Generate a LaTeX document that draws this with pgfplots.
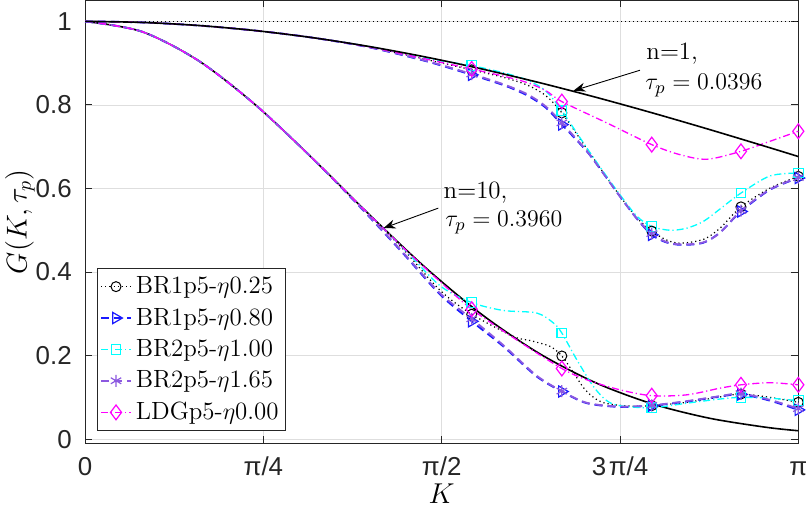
\documentclass[border=0pt]{standalone}
\usepackage{fontspec}
\usepackage{pgfplots}
\pgfplotsset{compat=1.18}
\usetikzlibrary{arrows.meta}
\newfontfamily\tickfont{Liberation Sans}
\definecolor{cpurple}{rgb}{0.55,0.35,0.88}
\definecolor{cblue}{rgb}{0.1,0.1,1}
\definecolor{ccyan}{rgb}{0,1,1}
\definecolor{cmag}{rgb}{1,0,1}
\definecolor{axgray}{rgb}{0.15,0.15,0.15}
\pgfplotsset{
 sC/.style={black, line width=0.6bp, dash pattern=on 0.6bp off 1.5bp},
 sT/.style={cblue, line width=0.9bp, dash pattern=on 4bp off 2.5bp},
 sS/.style={ccyan, line width=0.65bp, dash pattern=on 3.5bp off 1.5bp on 0.6bp off 1.5bp},
 sA/.style={cpurple, line width=0.9bp, dash pattern=on 4bp off 2.5bp},
 sD/.style={cmag, line width=0.65bp, dash pattern=on 3.5bp off 1.5bp on 0.6bp off 1.5bp},
 mC/.style={black, mark=o, mark size=2.5bp, mark options={solid, line width=0.5bp}},
 mT/.style={cblue, mark=triangle, mark size=3.2bp, mark options={solid, rotate=-90, line width=0.6bp}},
 mS/.style={ccyan, mark=square, mark size=2.4bp, mark options={solid, line width=0.6bp}},
 mA/.style={cpurple, mark=asterisk, mark size=3bp, mark options={solid, line width=0.6bp}},
 mD/.style={cmag, mark=diamond, mark size=3.7bp, mark options={solid, line width=0.6bp}},
}
\begin{document}
\begin{tikzpicture}
\begin{axis}[
 scale only axis, width=356.6bp, height=221.4bp,
 xmin=0, xmax=3.14159, ymin=-0.01, ymax=1.05,
 xtick={0,0.785398,1.570796,2.356194,3.141593},
 xticklabels={0,π/4,π/2,3\kern0.1em π/4,π},
 ytick={0,0.2,0.4,0.6,0.8,1},
 grid=major, major grid style={black!13, line width=0.4bp},
 axis line style={axgray, line width=0.5bp},
 tick style={axgray, line width=0.5bp}, major tick length=3.5bp, tick align=inside,
 tick label style={font=\tickfont\fontsize{13}{15}\selectfont, text=axgray},
 /pgf/number format/assume math mode=true,
 xticklabel style={anchor=base, yshift=-16bp},
 yticklabel style={anchor=east, xshift=-3.2bp},
 xlabel={$K$}, ylabel={$G(K,\tau_p)$},
 label style={font=\fontsize{14}{16}\selectfont},
 xlabel style={at={(axis description cs:0.5,0)}, anchor=base, yshift=-29.9bp},
 ylabel style={at={(axis description cs:-0.0819,0.5)}, anchor=base},
 clip=false,
 legend style={at={(rel axis cs:0.0163,0.0277)}, anchor=south west, draw=axgray, line width=0.4bp,
   font=\fontsize{12.5}{14}\selectfont, inner xsep=1.5bp, inner ysep=2bp, row sep=1.7bp,
   cells={anchor=west}, fill=white},
 legend image code/.code={\draw[mark repeat=2,mark phase=2,#1] plot coordinates {(0bp,0bp) (7.5bp,0bp) (15bp,0bp)};},
]
% reference line
\addplot[black, line width=0.5bp, dash pattern=on 0.5bp off 1.5bp, forget plot] coordinates {(0,1) (3.14159,1)};

% ===== n=10 group (tau_p = 0.3960) =====
\addplot[black, line width=0.8bp, smooth, forget plot] coordinates {
(0,1) (0.25,0.97555) (0.5,0.90574) (0.75,0.80033) (1.0,0.67301) (1.25,0.53861) (1.5,0.41026)
(1.75,0.29735) (2.0,0.20515) (2.25,0.13470) (2.5,0.08416) (2.75,0.05005) (3.0,0.02832) (3.14159,0.02007)};
\addplot[sC, smooth, forget plot] coordinates {
(0,1) (0.25,0.97555) (0.5,0.90574) (0.75,0.80033) (1.0,0.67301) (1.2,0.5654) (1.4,0.455) (1.564,0.356)
(1.703,0.299) (1.886,0.246) (1.96,0.236) (2.048,0.222) (2.1,0.199) (2.15,0.160) (2.2,0.120) (2.25,0.096)
(2.3,0.085) (2.4,0.079) (2.496,0.080) (2.65,0.088) (2.797,0.101) (2.889,0.108) (3.017,0.100) (3.14159,0.088)};
\addplot[sT, smooth, forget plot] coordinates {
(0,1) (0.25,0.97555) (0.5,0.90574) (0.75,0.80033) (1.0,0.67301) (1.2,0.562) (1.4,0.445) (1.564,0.346)
(1.703,0.282) (1.842,0.222) (1.989,0.150) (2.1,0.114) (2.21,0.086) (2.356,0.077) (2.496,0.080)
(2.65,0.090) (2.797,0.102) (2.889,0.107) (3.017,0.092) (3.14159,0.070)};
\addplot[sS, smooth, forget plot] coordinates {
(0,1) (0.25,0.97555) (0.5,0.90574) (0.75,0.80033) (1.0,0.67301) (1.2,0.5654) (1.4,0.458) (1.564,0.367)
(1.703,0.327) (1.842,0.308) (1.989,0.302) (2.063,0.278) (2.1,0.254) (2.166,0.190) (2.239,0.126)
(2.298,0.092) (2.356,0.080) (2.496,0.075) (2.65,0.086) (2.797,0.096) (2.889,0.100) (3.017,0.098) (3.14159,0.092)};
\addplot[sA, smooth, forget plot] coordinates {
(0,1) (0.25,0.97555) (0.5,0.90574) (0.75,0.80033) (1.0,0.67301) (1.2,0.563) (1.4,0.447) (1.564,0.349)
(1.703,0.288) (1.842,0.225) (1.989,0.152) (2.1,0.115) (2.21,0.087) (2.356,0.078) (2.496,0.081)
(2.65,0.091) (2.797,0.103) (2.889,0.109) (3.017,0.094) (3.14159,0.073)};
\addplot[sD, smooth, forget plot] coordinates {
(0,1) (0.25,0.97555) (0.5,0.90574) (0.75,0.80033) (1.0,0.67301) (1.2,0.5654) (1.4,0.459) (1.564,0.377)
(1.703,0.311) (1.9,0.238) (2.1,0.169) (2.21,0.142) (2.356,0.118) (2.496,0.104) (2.65,0.106)
(2.797,0.122) (2.889,0.130) (3.017,0.135) (3.14159,0.130)};

% ===== n=1 group (tau_p = 0.0396) =====
\addplot[sC, smooth, forget plot] coordinates {
(0,1) (0.25,0.99753) (0.5,0.99015) (0.75,0.97797) (1.0,0.96117) (1.25,0.9395) (1.5,0.909)
(1.703,0.884) (1.85,0.865) (1.95,0.847) (2.03,0.822) (2.1,0.781) (2.21,0.695) (2.283,0.638)
(2.356,0.582) (2.43,0.530) (2.496,0.498) (2.56,0.477) (2.621,0.469) (2.723,0.478) (2.797,0.505)
(2.889,0.556) (3.017,0.601) (3.14159,0.629)};
\addplot[sT, smooth, forget plot] coordinates {
(0,1) (0.25,0.99753) (0.5,0.99015) (0.75,0.97797) (1.0,0.96117) (1.25,0.938) (1.5,0.905)
(1.703,0.872) (1.85,0.846) (1.95,0.822) (2.03,0.793) (2.1,0.753) (2.21,0.689) (2.283,0.636) (2.356,0.581)
(2.43,0.528) (2.496,0.489) (2.56,0.471) (2.628,0.465) (2.723,0.470) (2.797,0.495) (2.889,0.545)
(3.017,0.597) (3.14159,0.625)};
\addplot[sS, smooth, forget plot] coordinates {
(0,1) (0.25,0.99753) (0.5,0.99015) (0.75,0.97797) (1.0,0.96117) (1.25,0.9397) (1.5,0.912)
(1.703,0.894) (1.85,0.876) (1.95,0.859) (2.03,0.833) (2.1,0.786) (2.21,0.697) (2.283,0.640)
(2.356,0.585) (2.43,0.534) (2.496,0.509) (2.577,0.500) (2.65,0.505) (2.723,0.521) (2.797,0.551)
(2.889,0.589) (3.017,0.630) (3.14159,0.637)};
\addplot[sA, smooth, forget plot] coordinates {
(0,1) (0.25,0.99753) (0.5,0.99015) (0.75,0.97797) (1.0,0.96117) (1.25,0.9385) (1.5,0.906)
(1.703,0.874) (1.85,0.848) (1.95,0.825) (2.03,0.796) (2.1,0.757) (2.21,0.690) (2.283,0.636) (2.356,0.581)
(2.43,0.528) (2.496,0.492) (2.56,0.472) (2.628,0.466) (2.723,0.471) (2.797,0.494) (2.889,0.547)
(3.017,0.598) (3.14159,0.626)};
\addplot[sD, smooth, forget plot] coordinates {
(0,1) (0.25,0.99753) (0.5,0.99015) (0.75,0.97797) (1.0,0.96117) (1.25,0.9392) (1.5,0.910)
(1.703,0.886) (1.85,0.868) (1.95,0.853) (2.03,0.834) (2.1,0.808) (2.298,0.757) (2.496,0.705) (2.62,0.681)
(2.74,0.670) (2.889,0.689) (3.017,0.713) (3.14159,0.737)};
\addplot[black, line width=0.8bp, smooth, forget plot] coordinates {
(0,1) (0.25,0.99753) (0.5,0.99015) (0.75,0.97797) (1.0,0.96117) (1.25,0.94000) (1.5,0.91475)
(1.75,0.88579) (2.0,0.85351) (2.25,0.81834) (2.5,0.78075) (2.75,0.74119) (3.0,0.70020) (3.14159,0.67650)};

% ===== markers =====
\addplot[mC, only marks, forget plot] coordinates {(1.703,0.884) (2.1,0.781) (2.496,0.498) (2.889,0.556) (3.14159,0.629)
 (1.703,0.299) (2.1,0.199) (2.496,0.080) (2.889,0.108) (3.14159,0.088)};
\addplot[mT, only marks, forget plot] coordinates {(1.703,0.872) (2.1,0.753) (2.496,0.489) (2.889,0.545) (3.14159,0.625)
 (1.703,0.282) (2.1,0.114) (2.496,0.080) (2.889,0.107) (3.14159,0.070)};
\addplot[mS, only marks, forget plot] coordinates {(1.703,0.894) (2.1,0.786) (2.496,0.509) (2.889,0.589) (3.14159,0.637)
 (1.703,0.327) (2.1,0.254) (2.496,0.075) (2.889,0.100) (3.14159,0.092)};
\addplot[mA, only marks, forget plot] coordinates {(1.703,0.874) (2.1,0.757) (2.496,0.492) (2.889,0.547) (3.14159,0.626)
 (1.703,0.288) (2.1,0.115) (2.496,0.081) (2.889,0.109) (3.14159,0.073)};
\addplot[mD, only marks, forget plot] coordinates {(1.703,0.886) (2.1,0.808) (2.496,0.705) (2.889,0.689) (3.14159,0.737)
 (1.703,0.311) (2.1,0.169) (2.496,0.104) (2.889,0.130) (3.14159,0.130)};

% ===== legend =====
\addlegendimage{sC, mC}
\addlegendentry{BR1p5-$\eta$0.25}
\addlegendimage{sT, mT}
\addlegendentry{BR1p5-$\eta$0.80}
\addlegendimage{sS, mS}
\addlegendentry{BR2p5-$\eta$1.00}
\addlegendimage{sA, mA}
\addlegendentry{BR2p5-$\eta$1.65}
\addlegendimage{sD, mD}
\addlegendentry{LDGp5-$\eta$0.00}

% ===== annotations =====
\draw[black, line width=0.45bp, -{Stealth[length=6bp,width=4.5bp]}] (axis cs:2.444,0.883) -- (axis cs:2.151,0.834);
\draw[black, line width=0.45bp, -{Stealth[length=6bp,width=4.5bp]}] (axis cs:1.556,0.553) -- (axis cs:1.314,0.505);
\node[anchor=base west, inner sep=0pt, font=\fontsize{12.5}{15}\selectfont] at (axis cs:2.471,0.908) {n=1,};
\node[anchor=base west, inner sep=0pt, font=\fontsize{12.5}{15}\selectfont] at (axis cs:2.466,0.836) {$\tau_p = 0.0396$};
\node[anchor=base west, inner sep=0pt, font=\fontsize{12.5}{15}\selectfont] at (axis cs:1.578,0.577) {n=10,};
\node[anchor=base west, inner sep=0pt, font=\fontsize{12.5}{15}\selectfont] at (axis cs:1.585,0.509) {$\tau_p = 0.3960$};
\end{axis}
\pgfresetboundingbox
\path[use as bounding box] (current axis.south west) ++(-42.55bp,-32.35bp) rectangle ++(405bp,254bp);
\end{tikzpicture}
\end{document}
